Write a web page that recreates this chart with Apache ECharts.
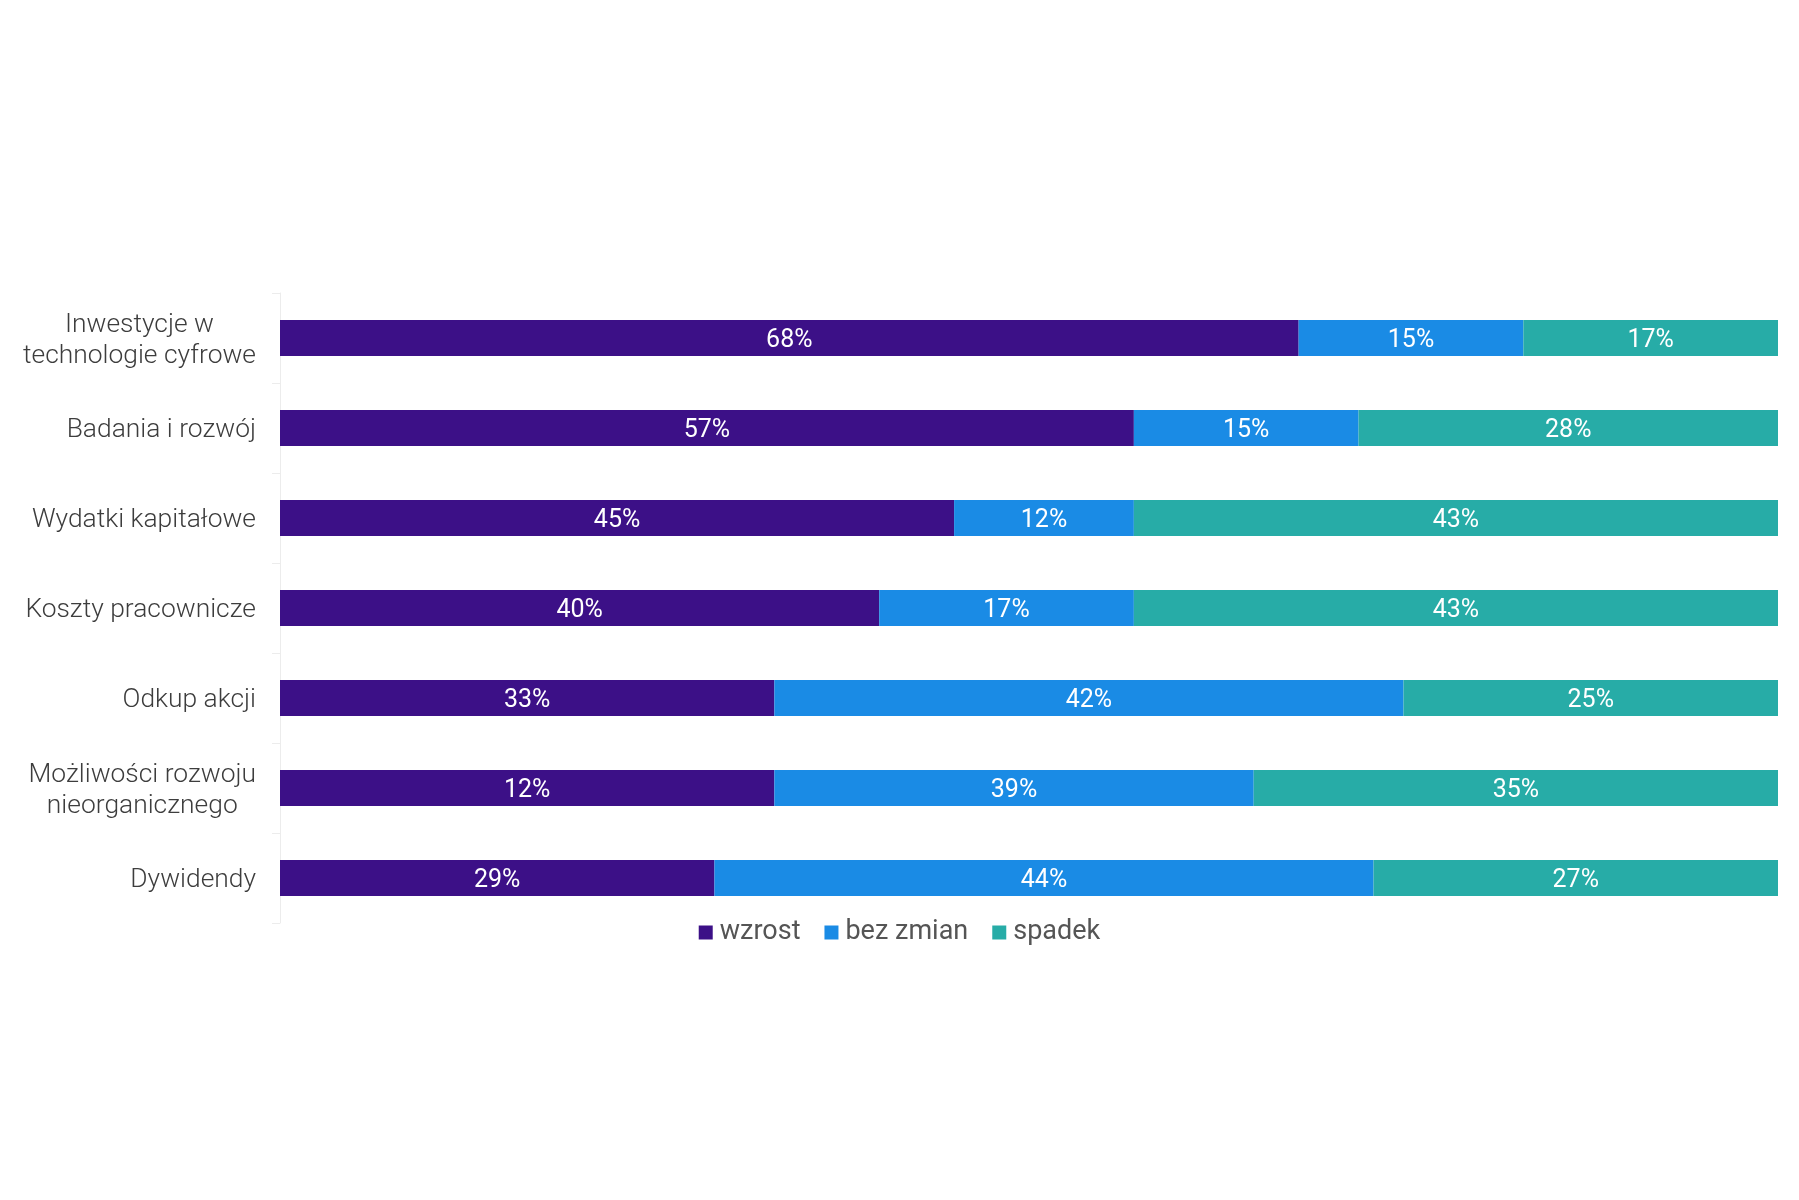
<!DOCTYPE html>
<html>
<head>
<meta charset="utf-8">
<script src="https://cdn.jsdelivr.net/npm/echarts@6/dist/echarts.min.js"></script>
<style>
html,body{margin:0;padding:0;background:#fff;}
#chart{width:1799px;height:1200px;}
</style>
</head>
<body>
<div id="chart"></div>
<script>
var categories = [
  'Inwestycje w\ntechnologie cyfrowe',
  'Badania i rozwój',
  'Wydatki kapitałowe',
  'Koszty pracownicze',
  'Odkup akcji',
  'Możliwości rozwoju\nnieorganicznego',
  'Dywidendy'
];
var seriesNames = ['wzrost', 'bez zmian', 'spadek'];
// bar lengths as drawn in the picture (percent)
var wzrost   = [68, 57, 45, 40, 33, 33, 29];
var bezZmian = [15, 15, 12, 17, 42, 32, 44];
var spadek   = [17, 28, 43, 43, 25, 35, 27];
// value labels as printed on the bars
var wzrostLabels   = ['68%', '57%', '45%', '40%', '33%', '12%', '29%'];
var bezZmianLabels = ['15%', '15%', '12%', '17%', '42%', '39%', '44%'];
var spadekLabels   = ['17%', '28%', '43%', '43%', '25%', '35%', '27%'];

var colors = ['#3c1087', '#1a8be5', '#27aca7'];
var FONT = 'Roboto';
var labelFontSize = 26.4;

var ctx = document.createElement('canvas').getContext('2d');
ctx.font = '300 ' + labelFontSize + 'px ' + FONT;
var catRich = { c: { align: 'center', fontSize: labelFontSize, fontFamily: FONT, fontWeight: 300, color: '#3d3d3d', lineHeight: 31 } };
function catFormatter(v) {
  var lines = v.split('\n');
  if (lines.length === 1) return v;
  var w = 0;
  lines.forEach(function (l) { w = Math.max(w, ctx.measureText(l).width); });
  catRich.c.width = Math.ceil(w);
  return lines.map(function (l) { return '{c|' + l + '}'; }).join('\n');
}

function mkSeries(name, data, labels, color) {
  return {
    name: name,
    type: 'bar',
    stack: 'total',
    barWidth: 36,
    data: data,
    itemStyle: { color: color },
    label: {
      show: true,
      position: 'inside',
      color: '#ffffff',
      fontFamily: FONT,
      fontSize: 25,
      offset: [0, 3],
      formatter: function (p) { return labels[p.dataIndex]; }
    }
  };
}

var chart = echarts.init(document.getElementById('chart'), null, { renderer: 'canvas' });
chart.setOption({
  animation: false,
  backgroundColor: '#ffffff',
  grid: { left: 280, right: 21, top: 293, bottom: 277, containLabel: false },
  legend: {
    data: seriesNames,
    top: 914,
    left: 'center',
    itemWidth: 14,
    itemHeight: 14,
    itemGap: 24,
    icon: 'rect',
    textStyle: { fontFamily: FONT, fontSize: 27, color: '#555555', padding: [0, 0, 0, 2] }
  },
  xAxis: {
    type: 'value',
    min: 0,
    max: 100,
    show: false
  },
  yAxis: {
    type: 'category',
    inverse: true,
    data: categories,
    axisLine: { show: true, lineStyle: { color: '#ececec', width: 1 } },
    axisTick: { show: true, length: 8, lineStyle: { color: '#ececec' } },
    axisLabel: {
      margin: 24,
      fontFamily: FONT,
      fontWeight: 300,
      fontSize: labelFontSize,
      color: '#3d3d3d',
      lineHeight: 31,
      padding: [5, 0, 0, 0],
      formatter: catFormatter,
      rich: catRich
    },
    splitLine: { show: false }
  },
  series: [
    mkSeries(seriesNames[0], wzrost, wzrostLabels, colors[0]),
    mkSeries(seriesNames[1], bezZmian, bezZmianLabels, colors[1]),
    mkSeries(seriesNames[2], spadek, spadekLabels, colors[2])
  ]
});
</script>
</body>
</html>
